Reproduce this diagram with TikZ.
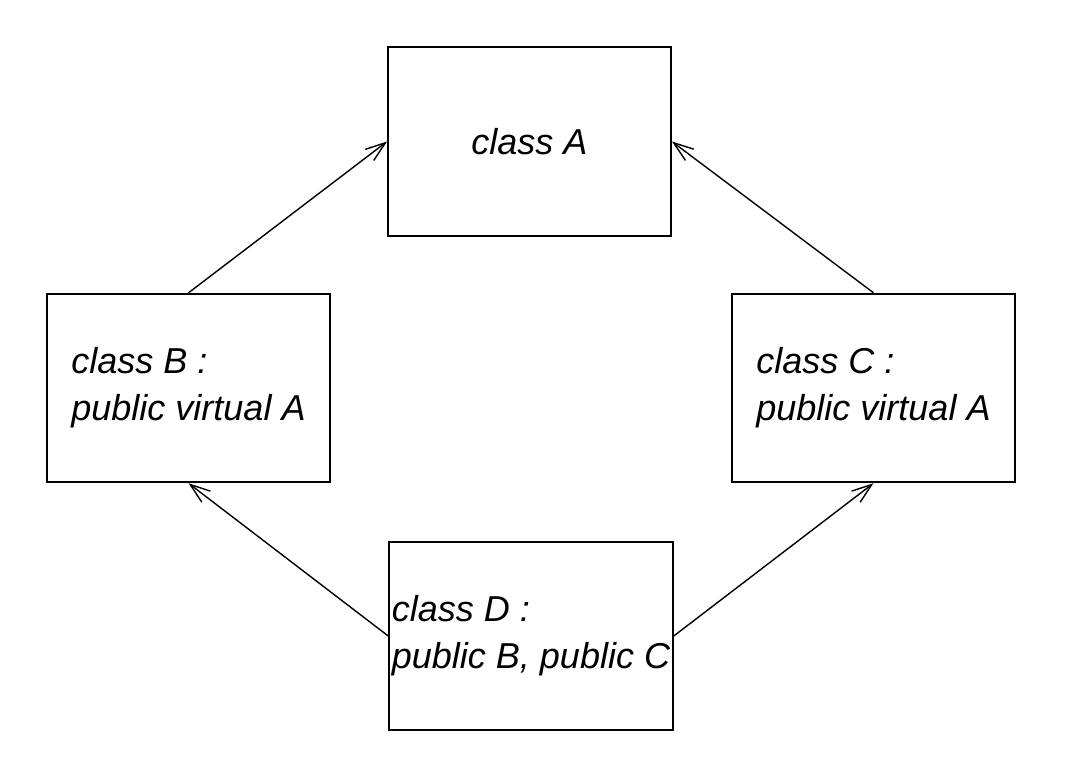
\documentclass[tikz,border=0pt]{standalone}
\usepackage{fontspec}
\setmainfont{Liberation Sans}
\usetikzlibrary{arrows.meta}
\begin{document}
\begin{tikzpicture}
		[	x=0.02cm,y=-0.02cm,
		cls/.style={rectangle,draw=black,line width=1.1pt,minimum width=5.66cm,minimum height=3.77cm,align=left,font=\fontsize{20.5}{26.7}\selectfont\itshape},
		inherit/.style={-{Straight Barb[length=4mm,width=2.8mm]},line width=0.8pt}
		]
		\useasboundingbox (0,0) rectangle (1076,779);
		\node[cls] (A) at (529.5,141.5){class A};
		\node[cls] (B) at (188.5,388){class B :\\public virtual A};
		\node[cls] (C) at (873.5,388){class C :\\public virtual A};
		\node[cls,inner xsep=1.5pt] (D) at (531,636){class D :\\public B, public C};

		\draw[inherit] (B.north) -- (A.west);
		\draw[inherit] (C.north) -- (A.east);
		\draw[inherit] (D.west) -- (B.south);
		\draw[inherit] (D.east) -- (C.south);
	\end{tikzpicture}
\end{document}
